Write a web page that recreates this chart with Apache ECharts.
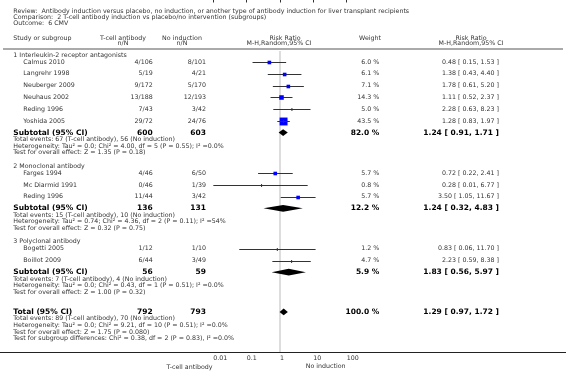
<!DOCTYPE html>
<html>
<head>
<meta charset="utf-8">
<script src="https://cdn.jsdelivr.net/npm/echarts@6/dist/echarts.min.js"></script>
<style>
html, body { margin: 0; padding: 0; background: #fff; }
#chart { width: 566px; height: 372px; }
</style>
</head>
<body>
<div id="chart"></div>
<script>
// 标题
const titleLines = [
	'Review:  Antibody induction versus placebo, no induction, or another type of antibody induction for liver transplant recipients',
	'Comparison:  2 T-cell antibody induction vs placebo/no intervention (subgroups)',
	'Outcome:  6 CMV'
]
// 分组
const groupNames = ['1 Interleukin-2 receptor antagonists', '2 Monoclonal antibody', '3 Polyclonal antibody']
const studyNames = [
	['Calmus 2010', 'Langrehr 1998', 'Neuberger 2009', 'Neuhaus 2002', 'Reding 1996', 'Yoshida 2005'],
	['Farges 1994', 'Mc Diarmid 1991', 'Reding 1996'],
	['Bogetti 2005', 'Boillot 2009']
]
const tcellEvents = [[4, 5, 9, 13, 7, 29], [4, 0, 11], [1, 6]]
const tcellTotal = [[106, 19, 172, 188, 43, 72], [46, 46, 44], [12, 44]]
const noEvents = [[8, 4, 5, 12, 3, 24], [6, 1, 3], [1, 3]]
const noTotal = [[101, 21, 170, 193, 42, 76], [50, 39, 42], [10, 49]]
const weights = [[6.0, 6.1, 7.1, 14.3, 5.0, 43.5], [5.7, 0.8, 5.7], [1.2, 4.7]]
const ratios = [[0.48, 1.38, 1.78, 1.11, 2.28, 1.28], [0.72, 0.28, 3.50], [0.83, 2.23]]
const lows = [[0.15, 0.43, 0.61, 0.52, 0.63, 0.83], [0.22, 0.01, 1.05], [0.06, 0.59]]
const highs = [[1.53, 4.40, 5.20, 2.37, 8.23, 1.97], [2.41, 6.77, 11.67], [11.70, 8.38]]
// 小计
const subTcell = [600, 136, 56]
const subNo = [603, 131, 59]
const subTcellEvents = [67, 15, 7]
const subNoEvents = [56, 10, 4]
const subWeights = [82.0, 12.2, 5.9]
const subRatios = [1.24, 1.24, 1.83]
const subLows = [0.91, 0.32, 0.56]
const subHighs = [1.71, 4.83, 5.97]
const subHetero = [
	'Tau² = 0.0; Chi² = 4.00, df = 5 (P = 0.55); I² =0.0%',
	'Tau² = 0.74; Chi² = 4.36, df = 2 (P = 0.11); I² =54%',
	'Tau² = 0.0; Chi² = 0.43, df = 1 (P = 0.51); I² =0.0%'
]
const subTests = ['Z = 1.35 (P = 0.18)', 'Z = 0.32 (P = 0.75)', 'Z = 1.00 (P = 0.32)']
// 合计
const totalTcell = 792
const totalNo = 793
const totalTcellEvents = 89
const totalNoEvents = 70
const totalWeight = 100.0
const totalRatio = 1.29
const totalLow = 0.97
const totalHigh = 1.72
const totalHetero = 'Tau² = 0.0; Chi² = 9.21, df = 10 (P = 0.51); I² =0.0%'
const totalTest = 'Z = 1.75 (P = 0.080)'
const subgroupTest = 'Chi² = 0.38, df = 2 (P = 0.83), I² =0.0%'
// 刻度
const tickLabels = ['0.01', '0.1', '1', '10', '100']

const FONT = "'DejaVu Sans', Verdana, sans-serif"
const small = '6.3px ' + FONT
const bold = 'bold 7.5px ' + FONT
const texts = []
function addText(x, y, text, font, align, color) {
	texts.push({
		type: 'text',
		silent: true,
		style: {
			x: x, y: y, text: text, font: font || small,
			fill: color || '#333',
			textAlign: align || 'left', align: align || 'left',
			textVerticalAlign: 'middle', verticalAlign: 'middle'
		}
	})
}
const fmt = (v) => v.toFixed(2)
const ci = (r, l, h) => fmt(r) + ' [ ' + fmt(l) + ', ' + fmt(h) + ' ]'

// 列位置
const colName = 13.3
const colStudy = 23.3
const colT = 152.7
const colN = 206
const colW = 379.3
const colRR = 499

// 表头
titleLines.forEach((t, i) => addText(colName, 11.5 + i * 5.9, t))
addText(colName, 38.3, 'Study or subgroup')
addText(123, 38.3, 'T-cell antibody', small, 'center')
addText(123, 43.5, 'n/N', small, 'center')
addText(182, 38.3, 'No induction', small, 'center')
addText(182, 43.5, 'n/N', small, 'center')
addText(285, 38.3, 'Risk Ratio', small, 'center')
addText(279, 43.5, 'M-H,Random,95% CI', small, 'center')
addText(370, 38.3, 'Weight', small, 'center')
addText(471, 38.3, 'Risk Ratio', small, 'center')
addText(471, 43.5, 'M-H,Random,95% CI', small, 'center')

const studyData = []
const diamondData = []
let y = 55
groupNames.forEach((g, gi) => {
	addText(colName, y, g)
	y += 7
	studyNames[gi].forEach((n, i) => {
		addText(colStudy, y, n)
		addText(colT, y, tcellEvents[gi][i] + '/' + tcellTotal[gi][i], small, 'right')
		addText(colN, y, noEvents[gi][i] + '/' + noTotal[gi][i], small, 'right')
		addText(colW, y, weights[gi][i].toFixed(1) + ' %', small, 'right')
		addText(colRR, y, ci(ratios[gi][i], lows[gi][i], highs[gi][i]), small, 'right')
		studyData.push([ratios[gi][i], lows[gi][i], highs[gi][i], y, weights[gi][i]])
		if (i < studyNames[gi].length - 1) y += 11.8
	})
	y += 11.6
	addText(colName, y, 'Subtotal (95% CI)', bold, 'left', '#000')
	addText(colT, y, String(subTcell[gi]), bold, 'right', '#000')
	addText(colN, y, String(subNo[gi]), bold, 'right', '#000')
	addText(colW, y, subWeights[gi].toFixed(1) + ' %', bold, 'right', '#000')
	addText(colRR, y, ci(subRatios[gi], subLows[gi], subHighs[gi]), bold, 'right', '#000')
	diamondData.push([subRatios[gi], subLows[gi], subHighs[gi], y])
	y += 6.8
	addText(colName, y, 'Total events: ' + subTcellEvents[gi] + ' (T-cell antibody), ' + subNoEvents[gi] + ' (No induction)')
	y += 6.7
	addText(colName, y, 'Heterogeneity: ' + subHetero[gi])
	y += 6.7
	addText(colName, y, 'Test for overall effect: ' + subTests[gi])
	y += 13.3
})
y += 6.2
addText(colName, y, 'Total (95% CI)', bold, 'left', '#000')
addText(colT, y, String(totalTcell), bold, 'right', '#000')
addText(colN, y, String(totalNo), bold, 'right', '#000')
addText(colW, y, totalWeight.toFixed(1) + ' %', bold, 'right', '#000')
addText(colRR, y, ci(totalRatio, totalLow, totalHigh), bold, 'right', '#000')
diamondData.push([totalRatio, totalLow, totalHigh, y])
y += 6.8
addText(colName, y, 'Total events: ' + totalTcellEvents + ' (T-cell antibody), ' + totalNoEvents + ' (No induction)')
y += 6.7
addText(colName, y, 'Heterogeneity: ' + totalHetero)
y += 6.7
addText(colName, y, 'Test for overall effect: ' + totalTest)
y += 6.7
addText(colName, y, 'Test for subgroup differences: ' + subgroupTest)

// 坐标轴下方说明
addText(189.5, 367, 'T-cell antibody', small, 'center')
addText(325.6, 366.5, 'No induction', small, 'center')

const axisY = 352
const chartInstance = echarts.init(document.getElementById('chart'))
const option = {
	animation: false,
	grid: { left: 213.333, width: 133.333, top: 0, height: axisY },
	xAxis: {
		type: 'log',
		logBase: 10,
		min: 0.01,
		max: 100,
		axisLine: { show: false },
		axisTick: { show: true, length: 2.5, lineStyle: { color: '#333', width: 1 } },
		splitLine: { show: false },
		axisLabel: {
			margin: 3.5,
			fontSize: 6.3,
			fontFamily: FONT,
			color: '#333',
			align: 'left',
			formatter: (v) => tickLabels[Math.round(Math.log10(v)) + 2]
		}
	},
	yAxis: { type: 'value', min: 0, max: axisY, inverse: true, show: false },
	graphic: texts.concat([
		{ type: 'line', silent: true, shape: { x1: 3, y1: 49, x2: 563, y2: 49 }, style: { stroke: '#aaa', lineWidth: 2 } },
		{ type: 'line', silent: true, shape: { x1: 0, y1: axisY + 0.5, x2: 566, y2: axisY + 0.5 }, style: { stroke: '#222', lineWidth: 1 } }
	]),
	series: [
		{
			// 无效线
			type: 'custom',
			silent: true,
			z: 1,
			data: [[1, 51, axisY]],
			renderItem: (params, api) => {
				const a = api.coord([api.value(0), api.value(1)])
				const b = api.coord([api.value(0), api.value(2)])
				return { type: 'line', shape: { x1: a[0], y1: a[1], x2: b[0], y2: b[1] }, style: { stroke: '#ddd', lineWidth: 2 } }
			}
		},
		{
			// 研究
			type: 'custom',
			silent: true,
			z: 3,
			data: studyData,
			renderItem: (params, api) => {
				const c = api.coord([api.value(0), api.value(3)])
				const l = api.coord([api.value(1), api.value(3)])
				const h = api.coord([api.value(2), api.value(3)])
				const w = api.value(4)
				const size = w < 5.5 ? 0 : Math.max(3.6, Math.sqrt(w) * 1.2)
				const cy = Math.round(c[1]) + 0.5
				const children = [
					{ type: 'line', shape: { x1: l[0], y1: cy, x2: h[0], y2: cy }, style: { stroke: '#333', lineWidth: 1 } }
				]
				if (size > 0) {
					children.push({ type: 'rect', shape: { x: c[0] - size / 2, y: cy - size / 2, width: size, height: size }, style: { fill: '#0000ff' } })
				}
				if (size === 0 || size > 6) {
					children.push({ type: 'line', shape: { x1: c[0], y1: cy - 1.5, x2: c[0], y2: cy + 1.5 }, style: { stroke: '#333', lineWidth: 1 } })
					if (size > 6) {
						children.push({ type: 'line', shape: { x1: c[0] - size / 2, y1: cy, x2: c[0] + size / 2, y2: cy }, style: { stroke: '#333', lineWidth: 1 } })
					}
				}
				return { type: 'group', children: children }
			}
		},
		{
			// 合并效应
			type: 'custom',
			silent: true,
			z: 3,
			data: diamondData,
			renderItem: (params, api) => {
				const c = api.coord([api.value(0), api.value(3)])
				const l = api.coord([api.value(1), api.value(3)])
				const h = api.coord([api.value(2), api.value(3)])
				const d = 3.4
				return {
					type: 'polygon',
					shape: { points: [[l[0], c[1]], [c[0], c[1] - d], [h[0], c[1]], [c[0], c[1] + d]] },
					style: { fill: '#000' }
				}
			}
		}
	]
}
chartInstance.setOption(option)
</script>
</body>
</html>
